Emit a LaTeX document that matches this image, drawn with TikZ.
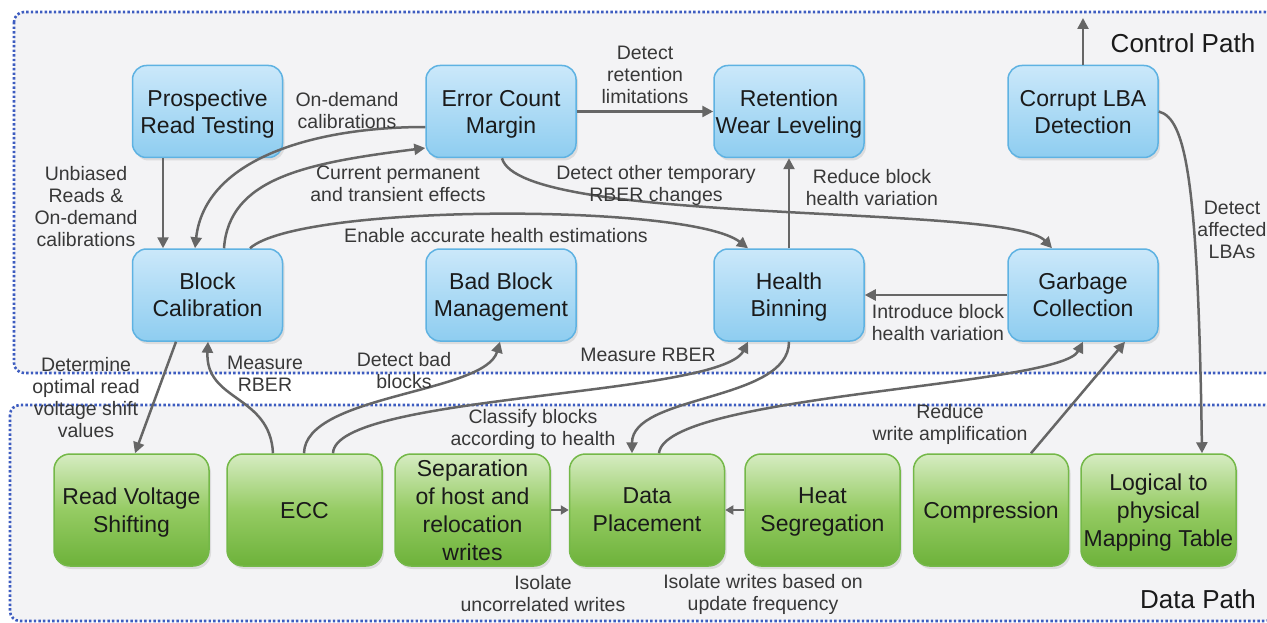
\documentclass[tikz,border=0pt]{standalone}
\usepackage{fontspec}
\setmainfont{Liberation Sans}
\usetikzlibrary{arrows.meta,shadows,calc}
\definecolor{arr}{HTML}{666666}
\definecolor{bluetop}{HTML}{CBE8FA}
\definecolor{bluebot}{HTML}{8ECDF0}
\definecolor{bluebd}{HTML}{5EB2E2}
\definecolor{grntop}{HTML}{D6ECC2}
\definecolor{grnmid}{HTML}{95CB63}
\definecolor{grnbot}{HTML}{6DB23A}
\definecolor{grnbd}{HTML}{74B848}
\definecolor{txt}{HTML}{1A1A1A}
\definecolor{lbltxt}{HTML}{383838}
\definecolor{dotblue}{HTML}{3D5CC0}
\definecolor{bgray}{HTML}{F3F3F5}
\begin{document}
\begin{tikzpicture}[x=1pt,y=-1pt,
  blk/.style={draw=bluebd,line width=1.5pt,rounded corners=14pt,minimum width=150pt,minimum height=92pt,
    inner sep=1pt,align=center,top color=bluetop,bottom color=bluebot,text depth=-3pt,
    font=\fontsize{23}{27}\selectfont,text=txt,
    drop shadow={shadow xshift=2pt,shadow yshift=-3pt,opacity=0.2}},
  grn/.style={draw=grnbd,line width=1.5pt,rounded corners=16pt,minimum width=155pt,minimum height=112pt,
    inner sep=1pt,align=center,top color=grntop,bottom color=grnbot,middle color=grnmid,text depth=-3pt,
    font=\fontsize{23}{28}\selectfont,text=txt,
    drop shadow={shadow xshift=2pt,shadow yshift=-3pt,opacity=0.2}},
  lbl/.style={font=\fontsize{19.5}{22}\selectfont,text=lbltxt,align=center,inner sep=0pt},
  ttl/.style={font=\fontsize{26}{30}\selectfont,text=txt,inner sep=0pt},
  con/.style={draw=arr,line width=2.5pt,-{Triangle[length=11pt,width=11pt]}},
  scon/.style={draw=arr,line width=2pt,-{Triangle[length=8pt,width=9pt]}},
  region/.style={draw=dotblue,line width=2.6pt,dash pattern=on 2.4pt off 2.2pt,rounded corners=10pt,fill=bgray}
]
\useasboundingbox (0,0) rectangle (1267,623);
\fill[white] (0,0) rectangle (1267,623);
\draw[region] (14,12) rectangle (1275,373);
\draw[region] (10,405) rectangle (1275,621);

% control path nodes
\node[blk] (prt) at (207.5,111.5) {Prospective\\Read Testing};
\node[blk] (ecm) at (501,111.5) {Error Count\\Margin};
\node[blk] (rwl) at (789,111.5) {Retention\\Wear Leveling};
\node[blk] (clba) at (1083,111.5) {Corrupt LBA\\Detection};
\node[blk] (bc) at (207.5,295) {Block\\Calibration};
\node[blk] (bbm) at (501,295) {Bad Block\\Management};
\node[blk] (hb) at (789,295) {Health\\Binning};
\node[blk] (gc) at (1083,295) {Garbage\\Collection};

% data path nodes
\node[grn] (rvs) at (131.5,510) {Read Voltage\\Shifting};
\node[grn] (ecc) at (304.5,510) {ECC};
\node[grn] (sep) at (472.5,510) {Separation\\of host and\\relocation\\writes};
\node[grn] (dp) at (647,510) {Data\\Placement};
\node[grn] (hs) at (822.5,510) {Heat\\Segregation};
\node[grn] (comp) at (991,510) {Compression};
\node[grn] (l2p) at (1158.5,510) {Logical to\\physical\\Mapping Table};

\coordinate (cup) at (1083,18);

% connectors
\draw[con] ([xshift=-44.5pt]prt.south) -- ([xshift=-44.5pt]bc.north);
\draw[con] ([yshift=-15.5pt]ecm.west) .. controls +(-110,0) and +(10,-90) .. ([xshift=-12.5pt]bc.north);
\draw[con] ([xshift=16.5pt]bc.north) .. controls +(5,-70) and +(-120,15) .. ([yshift=-36.5pt]ecm.west);
\draw[con] ([xshift=42.5pt]bc.north) .. controls +(50,-45) and +(-58,-45) .. ([xshift=-41pt]hb.north);
\draw[con] ([xshift=1pt]ecm.south) .. controls +(18,68) and +(-42,-45) .. ([xshift=-31pt]gc.north);
\draw[con] (ecm.east) -- (rwl.west);
\draw[con] (hb.north) -- (rwl.south);
\draw[con] (gc.west) -- (hb.east);
\draw[con] (clba.east) .. controls +(27,7) and +(-4,-274) .. ([xshift=43.5pt]l2p.north);
\draw[con] (clba.north) -- (cup);
\draw[con] ([xshift=-31.5pt]bc.south) -- ([xshift=3.5pt]rvs.north);
\draw[con] ([xshift=-31.5pt]ecc.north) .. controls +(-3,-59) and +(-3,60) .. ([xshift=0.5pt]bc.south);
\draw[con] ([xshift=-0.5pt]ecc.north) .. controls +(1,-59) and +(-15,52) .. ([xshift=-1pt]bbm.south);
\draw[con] ([xshift=28.5pt]ecc.north) .. controls +(2,-59) and +(-28,55) .. ([xshift=-41pt]hb.south);
\draw[con] (hb.south) .. controls +(0,60) and +(0,-59) .. ([xshift=-15pt]dp.north);
\draw[con] ([xshift=12pt]dp.north) .. controls +(6,-59) and +(-23,45) .. (gc.south);
\draw[con] ([xshift=40pt]comp.north) -- ([xshift=42pt]gc.south);
\draw[scon] (sep.east) -- (dp.west);
\draw[scon] (hs.west) -- (dp.east);

% labels
\node[lbl] (l1) at (86,207) {Unbiased\\Reads \&\\On-demand\\calibrations};
\node[lbl] (l2) at (347,111) {On-demand\\calibrations};
\node[lbl] (l3) at (398,184) {Current permanent\\and transient effects};
\node[lbl] (l4) at (496,236) {Enable accurate health estimations};
\node[lbl] (l5) at (656,185) {Detect other temporary\\RBER changes};
\node[lbl] (l6) at (645,75) {Detect\\retention\\limitations};
\node[lbl] (l7) at (872,188) {Reduce block\\health variation};
\node[lbl] (l8) at (938,323) {Introduce block\\health variation};
\node[lbl] (l9) at (1232,230) {Detect\\affected\\LBAs};
\node[lbl] (l10) at (86,398) {Determine\\optimal read\\voltage shift\\values};
\node[lbl] (l11) at (265,374) {Measure\\RBER};
\node[lbl] (l12) at (404,371) {Detect bad\\blocks};
\node[lbl] (l13) at (648,355) {Measure RBER};
\node[lbl] (l14) at (533,429) {Classify blocks\\according to health};
\node[lbl] (l15) at (950,424) {Reduce\\write amplification};
\node[lbl] (l16) at (543,594) {Isolate\\uncorrelated writes};
\node[lbl] (l17) at (763,594) {Isolate writes based on\\update frequency};
\node[ttl] (cp) at (1183,43) {Control Path};
\node[ttl] (dpth) at (1198,599) {Data Path};
\end{tikzpicture}
\end{document}
